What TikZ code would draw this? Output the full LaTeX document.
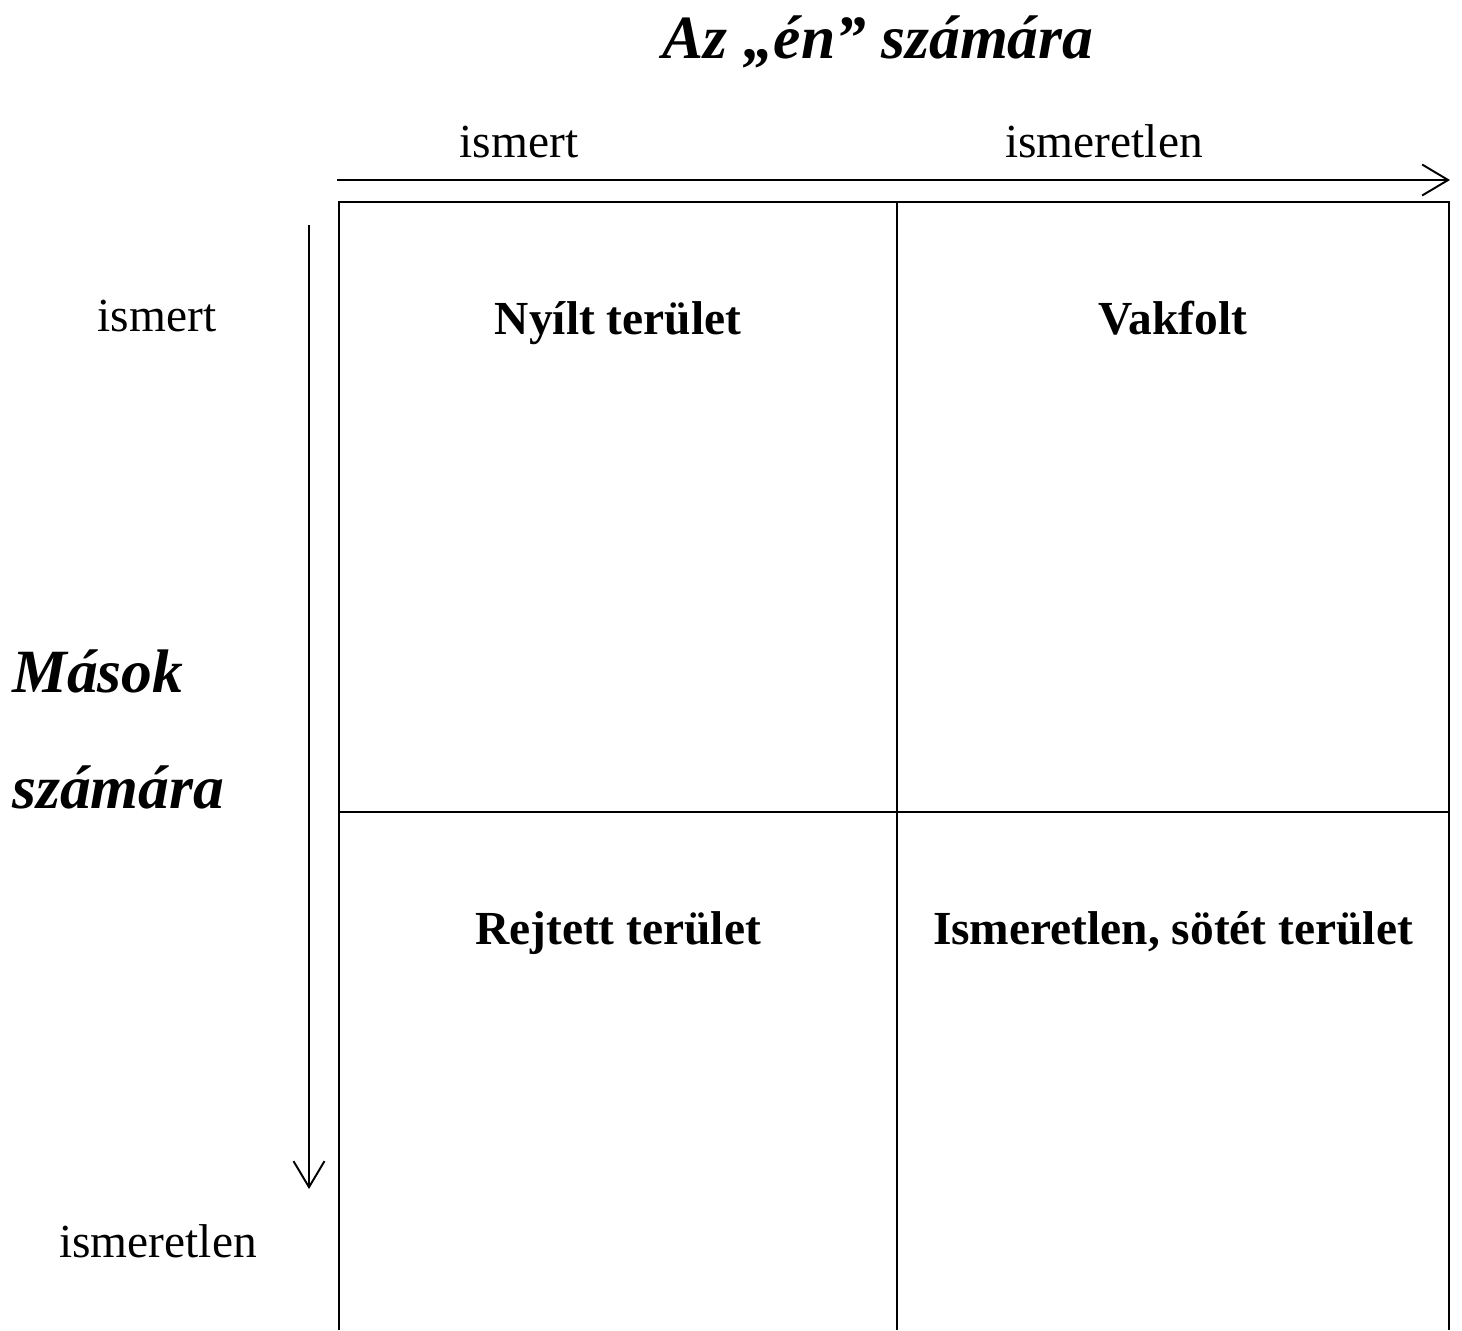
\documentclass[tikz,border=0pt]{standalone}
\usepackage{fontspec}
\setmainfont{Liberation Serif}
\usetikzlibrary{arrows.meta}
\tikzset{
  axis/.style={line width=1.1pt, -{Straight Barb[length=0.52cm, width=0.62cm, line width=1.1pt]}},
  lbl/.style={font=\fontsize{27}{30}\selectfont, inner sep=0pt, anchor=base},
  area/.style={font=\bfseries\fontsize{27}{30}\selectfont, inner sep=0pt, anchor=base},
  title/.style={font=\bfseries\itshape\fontsize{35}{40}\selectfont, inner sep=0pt, anchor=base}
}
\begin{document}
\begin{tikzpicture}[x=0.02cm, y=-0.02cm]
\useasboundingbox (0,0) rectangle (1462,1330);
% grid, open at the bottom
\draw[line width=1.1pt] (339,1330) -- (339,202) -- (1449,202) -- (1449,1330);
\draw[line width=1.1pt] (897,202) -- (897,1330);
\draw[line width=1.1pt] (339,812) -- (1449,812);
% axes
\coordinate (hstart) at (337,180);
\coordinate (hend) at (1450,180);
\coordinate (vstart) at (309,225);
\coordinate (vend) at (309,1189);
\draw[axis] (hstart) -- (hend);
\draw[axis] (vstart) -- (vend);
% headings
\node[title] (en) at (878,58) {Az „én” számára};
\node[lbl] (topknown) at (519,157) {ismert};
\node[lbl] (topunknown) at (1104,157) {ismeretlen};
\node[lbl] (leftknown) at (157,331) {ismert};
\node[lbl] (leftunknown) at (158,1257) {ismeretlen};
\node[title, anchor=base west] (masok) at (12,692) {Mások};
\node[title, anchor=base west] (szamara) at (12,808) {számára};
% quadrants
\node[area] (open) at (618,334) {Nyílt terület};
\node[area] (blind) at (1173,334) {Vakfolt};
\node[area] (hidden) at (618,944) {Rejtett terület};
\node[area] (dark) at (1173,944) {Ismeretlen, sötét terület};
\end{tikzpicture}
\end{document}
